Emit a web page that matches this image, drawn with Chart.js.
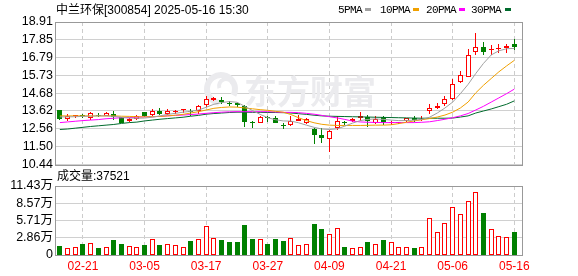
<!DOCTYPE html>
<html>
<head>
<meta charset="utf-8">
<script src="https://cdn.jsdelivr.net/npm/chart.js@4.4.1/dist/chart.umd.min.js"></script>
<style>
body{margin:0;background:#fff;}
#wrap{position:relative;width:578px;height:276px;overflow:hidden;}
canvas{position:absolute;left:0;}
#cK{top:0}
#cV{top:175px}
.t{position:absolute;font:12px/14px "Liberation Sans","Noto Sans CJK SC",sans-serif;white-space:nowrap;color:#000}
.lg{font:11px/14px "Liberation Mono",monospace;letter-spacing:-0.6px}
.sw{position:absolute;width:6px;height:3px}
</style>
</head>
<body>
<div id="wrap">
  <canvas id="cK" width="578" height="175"></canvas>
  <canvas id="cV" width="578" height="101"></canvas>
  <div class="t" id="title" style="left:56px;top:3px"></div>
  <div class="t" id="volTitle" style="left:57px;top:169px"></div>
</div>
<script>
const stockName = "中兰环保[300854]";
const stamp = "2025-05-16 15:30";

// 60 trading days, 02-18 .. 05-16
const dates = [
  "02-18","02-19","02-20","02-21","02-24","02-25","02-26","02-27","02-28","03-03",
  "03-04","03-05","03-06","03-07","03-10","03-11","03-12","03-13","03-14","03-17",
  "03-18","03-19","03-20","03-21","03-24","03-25","03-26","03-27","03-28","03-31",
  "04-01","04-02","04-03","04-07","04-08","04-09","04-10","04-11","04-14","04-15",
  "04-16","04-17","04-18","04-21","04-22","04-23","04-24","04-25","04-28","04-29",
  "04-30","05-06","05-07","05-08","05-09","05-12","05-13","05-14","05-15","05-16"
];
const dateTicks = ["02-21","03-05","03-17","03-27","04-09","04-21","05-06","05-16"];

const openP = [
  13.65,13.15,13.30,13.35,13.21,13.40,13.35,13.45,13.25,13.05,
  13.12,13.54,13.41,13.64,13.45,13.54,13.66,13.64,13.60,13.95,
  14.30,14.29,14.06,14.10,13.92,12.94,12.92,13.28,13.22,12.76,
  12.76,13.05,12.92,12.56,12.17,11.93,12.58,12.93,13.02,13.22,
  13.28,12.88,13.25,12.90,12.90,13.02,13.18,13.10,13.60,13.80,
  14.05,14.33,15.34,15.67,17.10,17.40,17.25,17.28,17.34,17.62
];
const highP = [
  13.68,13.45,13.40,13.42,13.54,13.48,13.55,13.60,13.27,13.20,
  13.38,13.56,13.74,13.80,13.72,13.68,13.76,13.76,14.00,14.53,
  14.48,14.43,14.19,14.15,14.00,13.01,13.33,13.35,13.30,12.92,
  13.31,13.41,13.20,12.60,12.62,12.48,13.35,13.05,13.22,13.54,
  13.38,13.35,13.35,13.02,12.98,13.22,13.30,13.30,14.06,14.10,
  14.49,15.51,16.02,17.30,18.26,17.70,17.57,17.58,17.60,17.89
];
const lowP = [
  13.08,13.05,13.20,13.18,13.11,13.24,13.30,13.11,12.90,12.98,
  13.08,13.28,13.33,13.40,13.38,13.42,13.50,13.31,13.45,13.85,
  14.22,14.05,13.90,13.88,12.66,12.62,12.90,12.95,12.88,12.53,
  12.72,13.00,12.85,11.68,11.70,11.18,12.52,12.78,12.98,13.01,
  12.68,12.82,12.76,12.80,12.85,12.95,12.95,13.05,13.42,13.72,
  13.90,14.30,15.28,15.62,16.92,16.92,16.95,17.05,17.05,17.25
];
const closeP = [
  13.13,13.35,13.33,13.30,13.51,13.32,13.48,13.25,12.92,13.15,
  13.32,13.31,13.64,13.47,13.64,13.64,13.66,13.58,13.90,14.36,
  14.42,14.17,14.06,13.97,12.94,12.91,13.27,13.23,12.92,12.72,
  13.00,13.14,13.15,12.19,12.00,12.45,13.00,12.89,13.16,13.30,
  13.00,13.15,12.96,12.94,12.93,13.18,13.06,13.15,13.77,13.94,
  14.35,15.23,15.77,16.95,17.42,17.12,17.33,17.32,17.48,17.40
];
const volume = [
  14400,12300,13900,17700,19400,11100,13900,24400,17700,15600,
  12800,16100,27200,16100,17700,16100,12800,22700,27200,47500,
  28800,24400,21000,21000,49200,26000,27200,17700,26000,22700,
  28800,16100,17700,51400,42600,34300,45400,12800,12300,13900,
  21000,17700,24400,21000,13900,13900,12300,13900,62000,38800,
  52500,80200,68600,90100,105000,69100,43700,32100,30500,37521
];

const ma5 = [
  13.27,13.27,13.28,13.30,13.31,13.33,13.33,13.30,13.25,13.20,
  13.19,13.20,13.25,13.33,13.42,13.48,13.55,13.60,13.68,13.84,
  14.02,14.12,14.18,14.14,13.90,13.65,13.42,13.22,13.10,13.03,
  13.02,12.92,12.78,12.65,12.55,12.52,12.56,12.72,12.90,13.05,
  13.12,13.15,13.12,13.08,13.05,13.05,13.08,13.12,13.25,13.50,
  13.80,14.15,14.65,15.20,15.85,16.45,16.95,17.20,17.32,17.34
];
const ma10 = [
  13.33,13.33,13.33,13.33,13.33,13.33,13.33,13.33,13.31,13.30,
  13.28,13.27,13.28,13.30,13.33,13.37,13.42,13.50,13.58,13.68,
  13.78,13.83,13.86,13.85,13.80,13.75,13.70,13.66,13.60,13.55,
  13.41,13.22,13.05,12.92,12.83,12.78,12.76,12.76,12.76,12.76,
  12.77,12.78,12.78,12.80,12.87,12.95,13.03,13.10,13.17,13.26,
  13.38,13.55,13.80,14.15,14.70,15.15,15.55,15.95,16.30,16.63
];
const ma20 = [
  12.93,12.97,13.01,13.05,13.08,13.11,13.16,13.19,13.22,13.23,
  13.25,13.27,13.28,13.30,13.33,13.36,13.38,13.41,13.44,13.48,
  13.52,13.55,13.57,13.58,13.58,13.58,13.58,13.58,13.56,13.54,
  13.54,13.52,13.48,13.43,13.36,13.28,13.21,13.12,13.02,12.97,
  12.95,12.94,12.93,12.93,12.93,12.93,12.93,12.95,12.98,13.05,
  13.13,13.22,13.33,13.47,13.68,13.90,14.15,14.40,14.65,14.92
];
const ma30 = [
  12.52,12.55,12.60,12.65,12.70,12.74,12.78,12.82,12.88,12.93,
  12.96,13.03,13.08,13.13,13.17,13.21,13.25,13.31,13.36,13.43,
  13.47,13.50,13.53,13.55,13.55,13.54,13.54,13.53,13.53,13.52,
  13.50,13.46,13.42,13.37,13.33,13.31,13.30,13.29,13.28,13.27,
  13.26,13.25,13.24,13.23,13.22,13.21,13.20,13.19,13.19,13.19,
  13.19,13.20,13.26,13.33,13.50,13.62,13.74,13.88,14.02,14.22
];

const priceTicks = ["10.44","11.50","12.56","13.62","14.68","15.73","16.79","17.85","18.91"];
const volTicks = ["0","2.86万","5.71万","8.57万","11.43万"];
const maNames = ["5PMA","10PMA","20PMA","30PMA"];

// styles
const RED = "#ff0000", GREEN = "#008000";
const maColors = ["#a0a0a0","#f0a000","#ff00ff","#006b2d"];
const legendX = [[338,365],[380,413],[426,459],[471,505]];
const AXIS_W = 56, RIGHT_PAD = 56;

const isUp = closeP.map((c,i)=> c > openP[i] || (c === openP[i] && c >= (i ? closeP[i-1] : c)));
const tickIdx = dateTicks.map(d=>dates.indexOf(d));

document.getElementById("title").textContent = stockName + " " + stamp;
document.getElementById("volTitle").textContent = "成交量:" + volume[volume.length-1];
const wrap = document.getElementById("wrap");
maNames.forEach((n,i)=>{
  const t = document.createElement("div");
  t.className = "t lg"; t.textContent = n;
  t.style.left = legendX[i][0]+"px"; t.style.top = "3px";
  wrap.appendChild(t);
  const s = document.createElement("div");
  s.className = "sw"; s.style.background = maColors[i];
  s.style.left = legendX[i][1]+"px"; s.style.top = "8px";
  wrap.appendChild(s);
});

// snap bar elements to whole pixels so the candles and volume bars stay crisp
const pixelSnap = {
  id: "pixelSnap",
  afterDatasetsUpdate(chart){
    chart.getSortedVisibleDatasetMetas().forEach(meta=>{
      if(meta.type !== "bar") return;
      meta.data.forEach(el=>{
        el.x = Math.floor(el.x) + 0.5;
        el.y = Math.round(el.y);
        el.base = Math.round(el.base);
      });
    });
  }
};
const frame = {
  id: "frame",
  beforeDatasetsDraw(chart){
    const {ctx, chartArea:a} = chart;
    ctx.save();
    ctx.strokeStyle = "#999"; ctx.lineWidth = 1;
    ctx.strokeRect(Math.round(a.left)-0.5, Math.round(a.top)+0.5,
      Math.round(a.right-a.left)+1, Math.round(a.bottom-a.top));
    ctx.restore();
  }
};
const watermark = {
  id: "watermark",
  beforeDatasetsDraw(chart){
    const ctx = chart.ctx;
    ctx.save();
    ctx.fillStyle = "#ebebee";
    ctx.strokeStyle = "#ebebee";
    ctx.lineWidth = 6;
    ctx.beginPath();
    ctx.arc(221, 89, 14, Math.PI*0.55, Math.PI*2.15);
    ctx.stroke();
    ctx.lineWidth = 4;
    ctx.beginPath();
    ctx.arc(226, 86, 7, Math.PI*0.9, Math.PI*1.9);
    ctx.stroke();
    ctx.font = 'bold 33px "Noto Sans CJK SC"';
    ctx.textBaseline = "middle";
    ctx.fillText("东方财富", 244, 91);
    ctx.restore();
  }
};

const xScale = (showLabels)=>({
  type: "linear", min: -0.5, max: dates.length, offset: false,
  afterBuildTicks: s=>{ s.ticks = tickIdx.map(v=>({value:v})); },
  afterFit: s=>{ s.height = showLabels ? 21 : 0; },
  grid: { color: "#cccccc", lineWidth: 1, drawTicks: false, offset: false },
  border: { display: false, dash: [4,3] },
  ticks: {
    display: showLabels, autoSkip: false, maxRotation: 0, padding: 4,
    color: RED, font: { family: "Liberation Sans", size: 12 },
    callback: v=>dates[v]
  }
});
const yTickFont = { family: '"Liberation Sans","Noto Sans CJK SC"', size: 12.5 };

const candleWicks = {
  type: "bar", order: 2, grouped: false,
  data: dates.map((d,i)=>({x:i, y:[lowP[i], highP[i]]})),
  backgroundColor: isUp.map(u=>u?RED:GREEN),
  borderWidth: 0, barThickness: 1, inflateAmount: 0
};
const candleBodies = {
  type: "bar", order: 1, grouped: false,
  data: dates.map((d,i)=>({x:i, y:[openP[i], closeP[i]]})),
  backgroundColor: isUp.map(u=>u?"#ffffff":GREEN),
  borderColor: isUp.map(u=>u?RED:GREEN),
  borderWidth: 1, borderSkipped: false, barThickness: 5, minBarLength: 1, inflateAmount: 0
};
const maLines = [ma5, ma10, ma20, ma30].map((arr,k)=>({
  type: "line", order: 0,
  data: arr.map((v,i)=>({x:i, y:v})),
  borderColor: maColors[k], borderWidth: 1, pointRadius: 0, tension: 0, fill: false
}));

new Chart(document.getElementById("cK"), {
  data: { datasets: [candleWicks, candleBodies, ...maLines] },
  options: {
    responsive: false, animation: false, events: [],
    layout: { padding: { top: 22, right: RIGHT_PAD, bottom: 10, left: 0 } },
    plugins: { legend: {display:false}, tooltip: {enabled:false} },
    scales: {
      x: xScale(false),
      y: {
        type: "linear", min: parseFloat(priceTicks[0]), max: parseFloat(priceTicks[priceTicks.length-1]),
        afterBuildTicks: s=>{ s.ticks = priceTicks.map(t=>({value: parseFloat(t)})); },
        afterFit: s=>{ s.width = AXIS_W; },
        grid: { color: "#d0d0d0", lineWidth: 1, drawTicks: false },
        border: { display: false },
        ticks: { padding: 3, autoSkip: false, color: "#000", font: yTickFont, callback: (v,i)=>priceTicks[i] }
      }
    }
  },
  plugins: [pixelSnap, watermark, frame]
});

new Chart(document.getElementById("cV"), {
  data: { datasets: [{
    type: "bar", grouped: false,
    data: volume.map((v,i)=>({x:i, y:v})),
    backgroundColor: isUp.map(u=>u?"#ffffff":GREEN),
    borderColor: isUp.map(u=>u?RED:GREEN),
    borderWidth: 1, borderSkipped: false, barThickness: 5, inflateAmount: 0
  }]},
  options: {
    responsive: false, animation: false, events: [],
    layout: { padding: { top: 11, right: RIGHT_PAD, bottom: 0, left: 0 } },
    plugins: { legend: {display:false}, tooltip: {enabled:false} },
    scales: {
      x: xScale(true),
      y: {
        type: "linear", min: 0, max: parseFloat(volTicks[volTicks.length-1])*10000,
        afterBuildTicks: s=>{ s.ticks = volTicks.map(t=>({value: parseFloat(t)*10000})); },
        afterFit: s=>{ s.width = AXIS_W; },
        grid: { color: "#d0d0d0", lineWidth: 1, drawTicks: false },
        border: { display: false },
        ticks: { padding: 3, autoSkip: false, color: "#000", font: yTickFont, callback: (v,i)=>volTicks[i] }
      }
    }
  },
  plugins: [pixelSnap, frame]
});
</script>
</body>
</html>
